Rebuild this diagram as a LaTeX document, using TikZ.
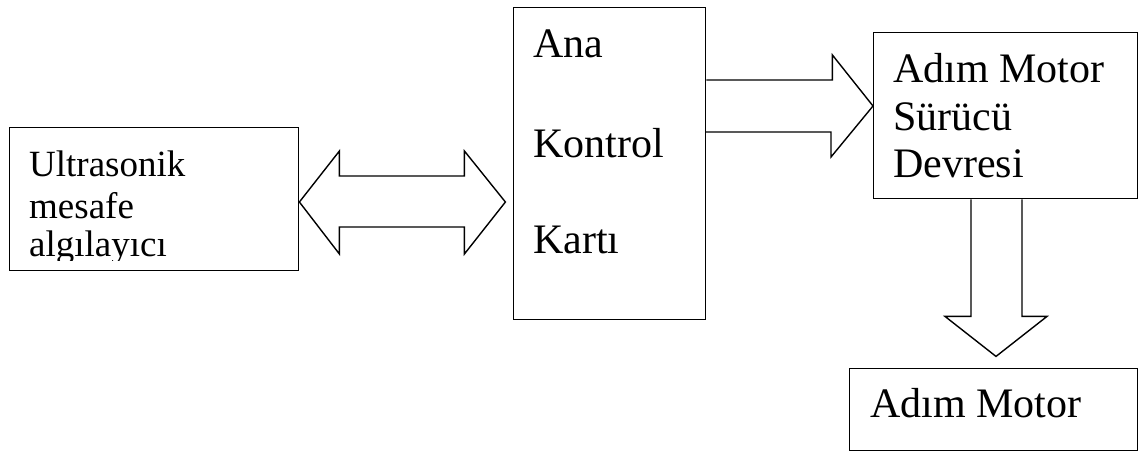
\documentclass[tikz,border=0pt]{standalone}
\usepackage{fontspec}
\setmainfont{Liberation Serif}
\usetikzlibrary{calc}
\tikzset{
  block/.style={draw, line width=1.4pt, rectangle, inner sep=0pt, anchor=north west},
  txt/.style={anchor=base west, inner sep=0pt},
  big/.style={font=\fontsize{42}{50}\selectfont},
  mid/.style={font=\fontsize{37}{44}\selectfont},
  fatarrow/.style={draw, line width=1.4pt, line join=miter}
}
\begin{document}
\begin{tikzpicture}[x=1pt, y=-1pt]
\useasboundingbox (0,0) rectangle (1139,453);

% blocks
\node[block, minimum width=289pt, minimum height=143pt] (sensor) at (9,127) {};
\node[block, minimum width=192pt, minimum height=312pt] (main) at (513,7) {};
\node[block, minimum width=264pt, minimum height=166pt] (driver) at (873,32) {};
\node[block, minimum width=288pt, minimum height=82pt] (motor) at (849,368) {};

% labels
\begin{scope}
  \clip (9,127) rectangle (298,260);
  \node[txt, mid] (s1) at (29,176) {Ultrasonik};
  \node[txt, mid] (s2) at (29,218) {mesafe};
  \node[txt, mid] (s3) at (29,256) {algılayıcı};
\end{scope}
\node[txt, big] (m1) at (533,57) {Ana};
\node[txt, big] (m2) at (533,157) {Kontrol};
\node[txt, big] (m3) at (533,253) {Kartı};
\node[txt, big] (d1) at (893,82) {Adım Motor};
\node[txt, big] (d2) at (893,130) {Sürücü};
\node[txt, big] (d3) at (893,177) {Devresi};
\node[txt, big] (mt) at (870,417) {Adım Motor};

% two-way block arrow between sensor and main board
\coordinate (dl) at (sensor.east |- 0,202);
\draw[fatarrow] (dl) -- ++(40,-51) -- ++(0,25) -- ++(125,0) -- ++(0,-25)
  -- ++(41,51) -- ++(-41,52) -- ++(0,-27) -- ++(-125,0) -- ++(0,27) -- cycle;

% block arrow from main board to driver
\coordinate (rl) at (main.east |- 0,80);
\draw[fatarrow] (rl) -- ++(126,0) -- ++(0,-25) -- (driver.west |- 0,106)
  -- ++(-42,51) -- ++(0,-25) -- ++(-126,0);

% block arrow from driver down to motor
\coordinate (dt) at (driver.south -| 971,0);
\draw[fatarrow] (dt) -- ++(0,117) -- ++(-26,0) -- ++(51,40) -- ++(51,-40)
  -- ++(-25,0) -- ++(0,-117);
\end{tikzpicture}
\end{document}
